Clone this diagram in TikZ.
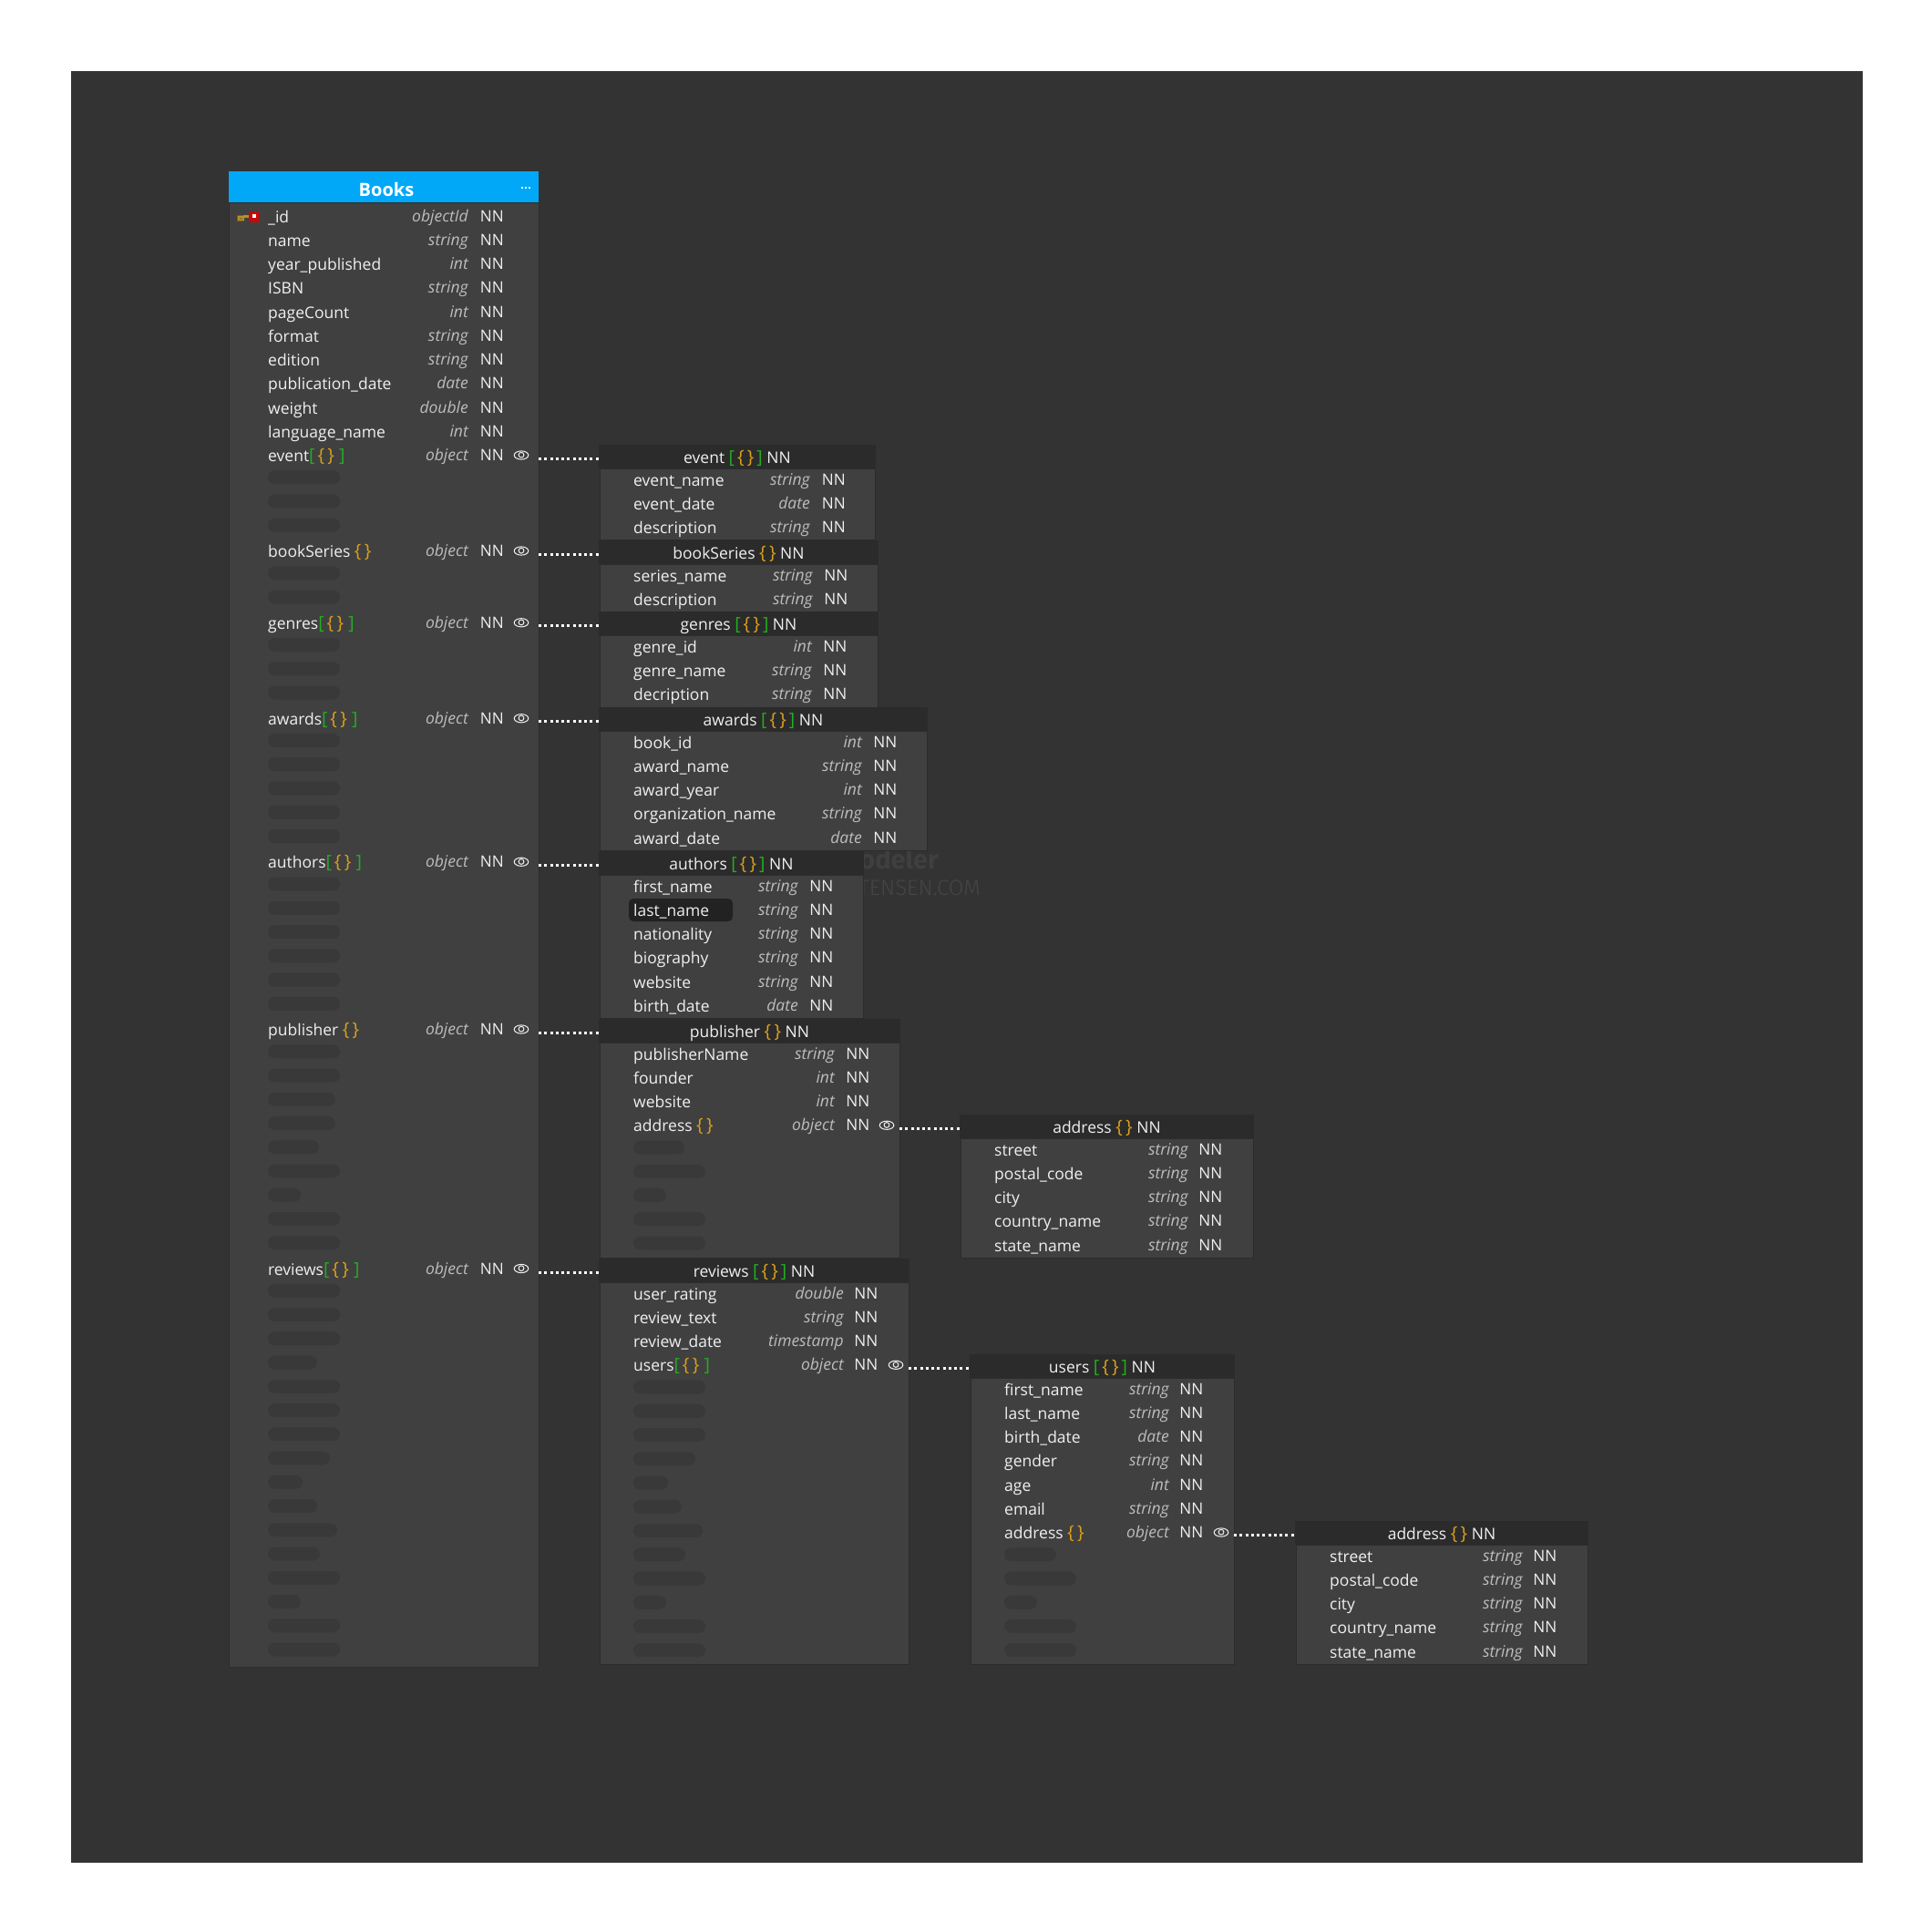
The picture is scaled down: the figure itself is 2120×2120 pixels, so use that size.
\documentclass[tikz,border=0pt]{standalone}
\usepackage{fontspec}
\setmainfont{Open Sans}
\newfontfamily\wmfont[UprightFont=* Light,BoldFont=* Bold]{Fira Sans}
\definecolor{bgd}{HTML}{333333}
\definecolor{bodyc}{HTML}{404040}
\definecolor{hdrc}{HTML}{2B2B2B}
\definecolor{edgec}{HTML}{2C2C2C}
\definecolor{pillc}{HTML}{393939}
\definecolor{txt}{HTML}{F0F0F0}
\definecolor{typec}{HTML}{BDBDBD}
\definecolor{grn}{HTML}{22AD22}
\definecolor{org}{HTML}{D9A01C}
\definecolor{blu}{HTML}{00A8F7}
\definecolor{wmc}{HTML}{3F3F3F}
\definecolor{wmd}{HTML}{454545}
\definecolor{keyg}{HTML}{B8902A}
\definecolor{keyd}{HTML}{7A5E18}
\definecolor{keyr}{HTML}{C80808}
\definecolor{selc}{HTML}{222222}
\newcounter{rowc}
\newcommand{\fsz}{\fontsize{17.5}{20}\selectfont}
\newcommand{\brc}{{\fontsize{20}{20}\selectfont\textcolor{org}{\{\,\}}}}
\newcommand{\brk}[1]{{\fontsize{19.5}{20}\selectfont\textcolor{grn}{#1}}}
\newcommand{\arrH}{\brk{[}\,\brc\,\brk{]}}
\newcommand{\arrR}{\brk{[}\,\brc\hspace{0.3em}\brk{]}}
\newcommand{\objH}{\brc}
% #1 id, #2 x1, #3 x2, #4 top, #5 bottom, #6 header, #7 name x, #8 type right, #9 NN x
\newcommand{\Tbl}[9]{%
  \def\nx{#7}\def\tx{#8}\def\nnx{#9}\def\ybase{(#4+38)}%
  \node[bodybox,minimum width={#3-#2},minimum height={#5-#4-26}] (b#1) at (#2,#4+26) {};
  \node[hdrbox,minimum width={#3-#2+2},minimum height=26] (h#1) at (#2-1,#4) {#6};
}
\newcommand{\Rw}[3]{%
  \stepcounter{rowc}%
  \node[nametxt] (n\therowc) at (\nx,{\ybase+26.25*#1+7}) {#2};
  \node[typetxt] (t\therowc) at (\tx+1,{\ybase+26.25*#1+6}) {#3};
  \node[nntxt] (q\therowc) at (\nnx-0.8,{\ybase+26.25*#1+6}) {NN};
}
\newcommand{\Pil}[2]{\fill[pill] (\nx,{\ybase+26.25*#1-9.5}) rectangle ++(#2,15);}
\newcommand{\Ey}[2]{%
  \draw[eyeline] (#2,{\ybase+26.25*#1}) ellipse (7.8 and 4.6);
  \draw[eyeline] (#2,{\ybase+26.25*#1-0.3}) circle (2.9);
}
\tikzset{
  bodybox/.style={anchor=north west,fill=bodyc,draw=edgec,line width=1pt,inner sep=0pt,outer sep=0pt},
  hdrbox/.style={anchor=north west,fill=hdrc,inner sep=0pt,outer sep=0pt,text=txt,font=\fsz,text height=15pt,text depth=0pt,align=center},
  nametxt/.style={anchor=base west,inner sep=0pt,text=txt,font=\fsz},
  typetxt/.style={anchor=base east,inner sep=0pt,text=typec,font=\fontsize{17.5}{20}\selectfont\itshape},
  nntxt/.style={anchor=base west,inner sep=0pt,text=txt,font=\fontsize{17.2}{20}\selectfont},
  pill/.style={fill=pillc,rounded corners=7.4pt},
  eyeline/.style={draw=txt,line width=1pt},
  conn/.style={draw=white,line width=3pt,dash pattern=on 3pt off 3.25pt},
}
\begin{document}
\begin{tikzpicture}[x=1pt,y=-1pt]
\useasboundingbox (0,0) rectangle (2120,2120);
\fill[white] (0,0) rectangle (2120,2120);
\fill[bgd] (78,78) rectangle (2044,2044);
% watermark
\node[anchor=base east,inner sep=0pt,text=wmc,font=\wmfont\bfseries\fontsize{29}{34}\selectfont] (wm1) at (1030,953) {odeler};
\node[anchor=base east,inner sep=0pt,text=wmd,font=\wmfont\fontsize{24}{30}\selectfont] (wm2) at (1076,982) {TENSEN.COM};
% main table
\def\nx{294}\def\tx{513}\def\nnx{527.5}\def\ybase{237}
\node[bodybox,minimum width=340,minimum height=1607] (bBooks) at (251,222) {};
\node[anchor=north west,fill=blu,minimum width=340,minimum height=34,inner sep=0pt,outer sep=0pt,text=white,font=\bfseries\fontsize{20}{22}\selectfont,text height=20pt,text depth=0pt] (hBooks) at (251,188) {\hspace{6pt}Books};
\foreach \dx in {-4,0,4}{\fill[white] (577+\dx-1,205) rectangle ++(2,2);}
% key icon
\fill[keyd] (260,235.5) rectangle (268,243);
\fill[keyg] (261,236.5) rectangle (267.5,242);
\fill[keyg] (267,236) rectangle (274,238.5);
\draw[keyd,line width=0.8pt] (263,238.5) -- (263,241) (265,238.5) -- (265,241);
\fill[keyr] (273,232) rectangle (284,244);
\fill[white] (277,235) rectangle (281,238.5);
\Rw{0}{\_id}{objectId}
\Rw{1}{name}{string}
\Rw{2}{year\_published}{int}
\Rw{3}{ISBN}{string}
\Rw{4}{pageCount}{int}
\Rw{5}{format}{string}
\Rw{6}{edition}{string}
\Rw{7}{publication\_date}{date}
\Rw{8}{weight}{double}
\Rw{9}{language\_name}{int}
\Rw{10}{event\arrR}{object}
\Ey{10}{572}
\foreach \i in {11,12,13,15,16,18,19,20,22,23,24,25,26,28,29,30,31,32,33}{\Pil{\i}{79}}
\Rw{14}{bookSeries \objH}{object}
\Ey{14}{572}
\Rw{17}{genres\arrR}{object}
\Ey{17}{572}
\Rw{21}{awards\arrR}{object}
\Ey{21}{572}
\Rw{27}{authors\arrR}{object}
\Ey{27}{572}
\Rw{34}{publisher \objH}{object}
\Ey{34}{572}
\foreach \i/\w in {35/79,36/79,37/74,38/74,39/56,40/79,41/36,42/79,43/79}{\Pil{\i}{\w}}
\Rw{44}{reviews\arrR}{object}
\Ey{44}{572}
\foreach \i/\w in {45/79,46/79,47/79,48/54,49/79,50/79,51/79,52/68,53/38,54/54,55/76,56/57,57/79,58/36,59/79,60/79}{\Pil{\i}{\w}}
% event
\Tbl{Event}{658}{960}{488}{592}{event \arrH\ NN}{695}{888}{902.5}
\Rw{0}{event\_name}{string}
\Rw{1}{event\_date}{date}
\Rw{2}{description}{string}
\Tbl{Series}{658}{963}{593}{671}{bookSeries \objH\ NN}{695}{891}{905}
\Rw{0}{series\_name}{string}
\Rw{1}{description}{string}
\Tbl{Genres}{658}{963}{671}{776}{genres \arrH\ NN}{695}{890}{904}
\Rw{0}{genre\_id}{int}
\Rw{1}{genre\_name}{string}
\Rw{2}{decription}{string}
\Tbl{Awards}{658}{1017}{776}{933}{awards \arrH\ NN}{695}{945}{959}
\Rw{0}{book\_id}{int}
\Rw{1}{award\_name}{string}
\Rw{2}{award\_year}{int}
\Rw{3}{organization\_name}{string}
\Rw{4}{award\_date}{date}
\Tbl{Authors}{658}{947}{934}{1117}{authors \arrH\ NN}{695}{875}{889}
\fill[selc,rounded corners=5pt] (690,986) rectangle (804,1011);
\Rw{0}{first\_name}{string}
\Rw{1}{last\_name}{string}
\Rw{2}{nationality}{string}
\Rw{3}{biography}{string}
\Rw{4}{website}{string}
\Rw{5}{birth\_date}{date}
\Tbl{Publisher}{658}{987}{1118}{1380}{publisher \objH\ NN}{695}{915}{929}
\Rw{0}{publisherName}{string}
\Rw{1}{founder}{int}
\Rw{2}{website}{int}
\Rw{3}{address \objH}{object}
\Ey{3}{973}
\foreach \i/\w in {4/56,5/79,6/36,7/79,8/79}{\Pil{\i}{\w}}
\Tbl{AddrA}{1054}{1375}{1223}{1380}{address \objH\ NN}{1091}{1303}{1316}
\Rw{0}{street}{string}
\Rw{1}{postal\_code}{string}
\Rw{2}{city}{string}
\Rw{3}{country\_name}{string}
\Rw{4}{state\_name}{string}
\Tbl{Reviews}{658}{997}{1381}{1826}{reviews \arrH\ NN}{695}{925}{938}
\Rw{0}{user\_rating}{double}
\Rw{1}{review\_text}{string}
\Rw{2}{review\_date}{timestamp}
\Rw{3}{users\arrR}{object}
\Ey{3}{983}
\foreach \i/\w in {4/79,5/79,6/79,7/68,8/38,9/53,10/76,11/57,12/79,13/36,14/79,15/79}{\Pil{\i}{\w}}
\Tbl{Users}{1065}{1354}{1486}{1826}{users \arrH\ NN}{1102}{1282}{1295}
\Rw{0}{first\_name}{string}
\Rw{1}{last\_name}{string}
\Rw{2}{birth\_date}{date}
\Rw{3}{gender}{string}
\Rw{4}{age}{int}
\Rw{5}{email}{string}
\Rw{6}{address \objH}{object}
\Ey{6}{1340}
\foreach \i/\w in {7/57,8/79,9/36,10/79,11/79}{\Pil{\i}{\w}}
\Tbl{AddrB}{1422}{1742}{1669}{1826}{address \objH\ NN}{1459}{1670}{1683}
\Rw{0}{street}{string}
\Rw{1}{postal\_code}{string}
\Rw{2}{city}{string}
\Rw{3}{country\_name}{string}
\Rw{4}{state\_name}{string}
% connectors
\foreach \h in {Event,Series,Genres,Awards,Authors,Publisher,Reviews}{
  \draw[conn] ([yshift=-2pt]h\h.west -| bBooks.east) -- ([yshift=-2pt]h\h.west);
}
\draw[conn] ([yshift=-2pt]hAddrA.west -| bPublisher.east) -- ([yshift=-2pt]hAddrA.west);
\draw[conn] ([yshift=-2pt]hUsers.west -| bReviews.east) -- ([yshift=-2pt]hUsers.west);
\draw[conn] ([yshift=-2pt]hAddrB.west -| bUsers.east) -- ([yshift=-2pt]hAddrB.west);
\end{tikzpicture}
\end{document}
